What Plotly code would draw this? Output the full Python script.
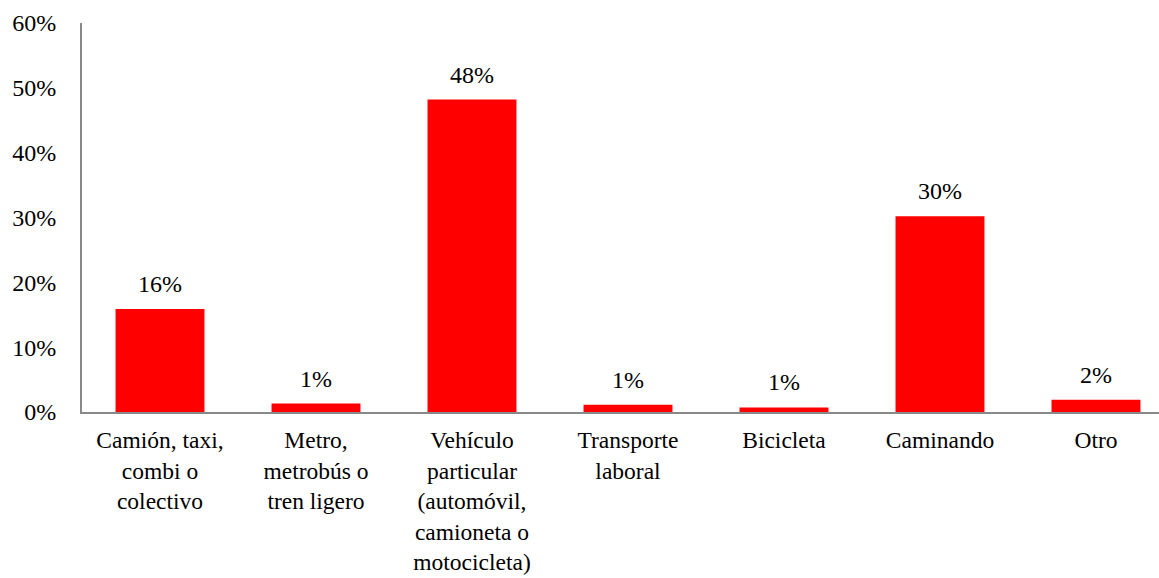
import plotly.graph_objects as go

categories = [
    "Camión, taxi,<br>combi o<br>colectivo",
    "Metro,<br>metrobús o<br>tren ligero",
    "Vehículo<br>particular<br>(automóvil,<br>camioneta o<br>motocicleta)",
    "Transporte<br>laboral",
    "Bicicleta",
    "Caminando",
    "Otro",
]
shares = [0.159, 0.013, 0.482, 0.011, 0.007, 0.302, 0.019]
labels = ["16%", "1%", "48%", "1%", "1%", "30%", "2%"]

serif = "Liberation Serif"

fig = go.Figure()
fig.add_trace(go.Bar(
    x=categories, y=shares,
    marker=dict(color="#ff0000", line=dict(width=0)),
    width=0.57,
))

# data labels sit a bit above each bar
for cat, val, lab in zip(categories, shares, labels):
    fig.add_annotation(x=cat, y=val, text=lab, showarrow=False,
                       yanchor="bottom", yshift=10,
                       font=dict(family=serif, size=24, color="#000000"))

fig.update_layout(
    width=1159, height=578,
    autosize=False,
    plot_bgcolor="white", paper_bgcolor="white",
    margin=dict(l=82, r=0, t=23, b=166),
    showlegend=False,
    font=dict(family=serif, size=24, color="#000000"),
)
fig.update_xaxes(
    range=[-0.5, 6.404], automargin=False,
    showline=True, linecolor="#898989", linewidth=2,
    showgrid=False, ticks="", ticklabelstandoff=6,
    tickfont=dict(family=serif, size=23.5, color="#000000"),
)
fig.update_yaxes(
    range=[0, 0.6], dtick=0.1, tickformat=".0%", automargin=False,
    showline=True, linecolor="#898989", linewidth=2,
    showgrid=False, zeroline=False, ticks="", ticklabelstandoff=19,
    tickfont=dict(family=serif, size=24, color="#000000"),
)

fig.write_html("out.html", config={"displayModeBar": False},
               post_script="document.body.style.margin='0';document.body.style.overflow='hidden';")
